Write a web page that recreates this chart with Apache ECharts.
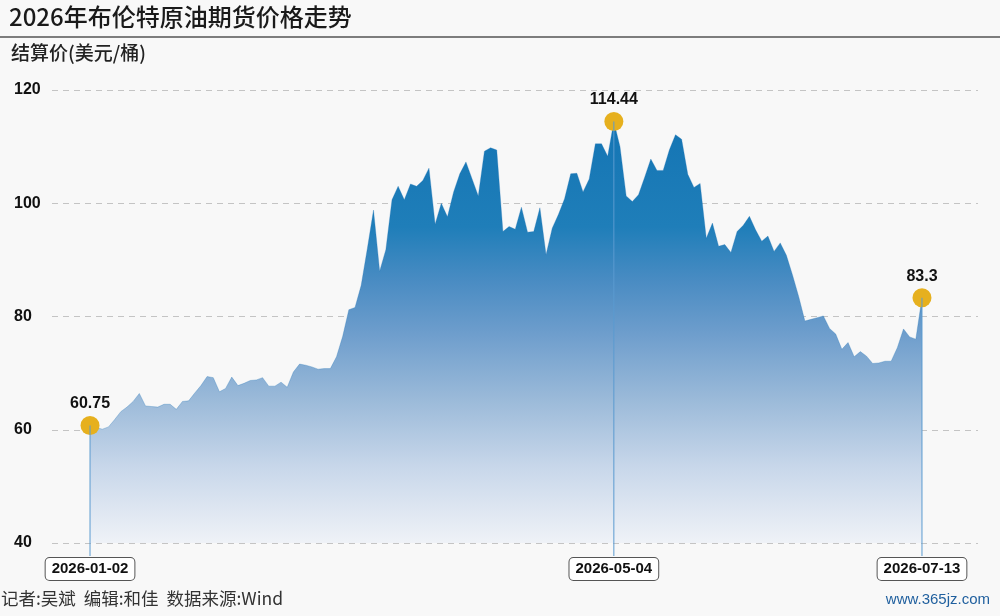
<!DOCTYPE html>
<html><head><meta charset="utf-8">
<script src="https://cdn.jsdelivr.net/npm/echarts@6/dist/echarts.min.js"></script>
<style>html,body{margin:0;padding:0;background:#f8f8f8}#c{width:1000px;height:616px}</style>
</head><body><div id="c"></div>
<script>
const titleText = '2026年布伦特原油期货价格走势';
const unitText = '结算价(美元/桶)';
const footerText = '记者:吴斌  编辑:和佳  数据来源:Wind';
const watermarkText = 'www.365jz.com';
const yTicks = [40, 60, 80, 100, 120];
const startDate = '2026-01-02';
const endDate = '2026-07-13';
const holidays = ['2026-04-03'];
const highlightDates = ['2026-01-02', '2026-05-04', '2026-07-13'];
const prices = [
  60.75, 60.4, 60.1, 60.5, 61.8, 63.2, 64.0, 65.0, 66.4, 64.2,
  64.1, 64.0, 64.5, 64.5, 63.6, 65.0, 65.1, 66.5, 67.8, 69.4,
  69.2, 66.7, 67.3, 69.3, 67.8, 68.2, 68.7, 68.8, 69.2, 67.7,
  67.7, 68.4, 67.5, 70.2, 71.6, 71.4, 71.1, 70.7, 70.8, 70.8,
  72.9, 76.5, 81.2, 81.6, 85.5, 92.0, 98.8, 88.0, 91.8, 100.6,
  103.0, 100.6, 103.4, 103.0, 104.0, 106.2, 96.3, 100.0, 97.6, 102.0,
  105.2, 107.3, 104.3, 101.3, 109.2, 109.8, 109.4, 95.0, 95.9, 95.4,
  99.3, 94.9, 95.0, 99.2, 90.9, 95.6, 98.0, 100.8, 105.2, 105.3,
  102.0, 104.3, 110.5, 110.5, 108.3, 114.44, 110.0, 101.3, 100.3, 101.5,
  104.6, 107.8, 105.8, 105.8, 109.4, 112.1, 111.3, 105.1, 102.8, 103.5,
  93.8, 96.5, 92.4, 92.7, 91.3, 95.0, 96.1, 97.7, 95.3, 93.3,
  94.2, 91.5, 93.0, 90.8, 87.3, 83.5, 79.2, 79.5, 79.8, 80.1,
  77.9, 76.9, 74.2, 75.4, 72.9, 73.8, 73.0, 71.7, 71.8, 72.1,
  72.1, 74.5, 77.8, 76.4, 76.0, 83.3
];

// trading-day categories (weekdays between start and end, minus holidays)
function tradingDays(a, b) {
  const out = [];
  const d = new Date(a + 'T00:00:00Z');
  const e = new Date(b + 'T00:00:00Z');
  while (d <= e) {
    const w = d.getUTCDay();
    const s = d.toISOString().slice(0, 10);
    if (w !== 0 && w !== 6 && holidays.indexOf(s) < 0) out.push(s);
    d.setUTCDate(d.getUTCDate() + 1);
  }
  return out;
}
const dates = tradingDays(startDate, endDate);
const hiIdx = highlightDates.map(s => dates.indexOf(s)).filter(i => i >= 0 && i < prices.length);

const numFont = '"Liberation Sans Narrow", "Liberation Sans", Arial, sans-serif';
const cjkFont = '"Noto Sans CJK SC", "Noto Sans", sans-serif';

const chart = echarts.init(document.getElementById('c'));
chart.setOption({
  backgroundColor: '#f8f8f8',
  animation: false,
  grid: { left: 52, right: 22, top: 90, bottom: 73 },
  xAxis: {
    type: 'value', min: -6.17, max: prices.length - 1 + 9.09,
    show: false, splitLine: { show: false }
  },
  yAxis: {
    type: 'value', min: yTicks[0], max: yTicks[yTicks.length - 1], interval: 20,
    axisLine: { show: false }, axisTick: { show: false },
    axisLabel: {
      align: 'left', margin: 38, color: '#111', fontSize: 16, fontWeight: 'bold',
      fontFamily: numFont
    },
    splitLine: { lineStyle: { color: '#c4c4c4', type: [6, 5], width: 1 } }
  },
  graphic: [
    { type: 'text', left: 9, top: 5, style: { text: titleText, font: '500 24px ' + cjkFont, fill: '#1a1a1a' } },
    { type: 'line', shape: { x1: 0, y1: 37, x2: 1000, y2: 37 }, style: { stroke: '#555', lineWidth: 1.5 } },
    { type: 'text', left: 11, top: 43, style: { text: unitText, font: '500 19px ' + cjkFont, fill: '#222' } },
    { type: 'text', left: 1, top: 590, style: { text: footerText, font: '17.5px ' + cjkFont, fill: '#333' } },
    { type: 'text', right: 10, top: 592, style: { text: watermarkText, font: '15px ' + numFont, fill: '#1f5f9e' } }
  ],
  series: [{
    type: 'line',
    data: prices.map((v, i) => [i, v]),
    showSymbol: false,
    lineStyle: { width: 0.6, color: 'rgba(30,115,180,0.5)' },
    areaStyle: {
      opacity: 1,
      color: new echarts.graphic.LinearGradient(0, 0, 0, 1, [
        { offset: 0, color: '#1475b4' },
        { offset: 0.25, color: '#1f7eb9' },
        { offset: 0.38, color: '#4a8cc3' },
        { offset: 0.5, color: '#6d9dcc' },
        { offset: 0.66, color: '#9bbad9' },
        { offset: 0.82, color: '#c8d7ea' },
        { offset: 1, color: '#eff2f7' }
      ])
    },
    emphasis: { disabled: true },
    markPoint: {
      silent: true,
      symbol: 'circle', symbolSize: 19,
      itemStyle: { color: '#E6B01E' },
      label: {
        show: true, position: 'top', distance: 4,
        formatter: p => String(p.value),
        color: '#111', fontSize: 16, fontWeight: 'bold', fontFamily: numFont
      },
      data: hiIdx.map(i => ({ coord: [i, prices[i]], value: prices[i] }))
    }
  }, {
    // drop lines from highlighted points with boxed date labels under the plot
    type: 'custom',
    clip: false,
    silent: true,
    z: 5,
    data: hiIdx.map(i => [i, prices[i]]),
    renderItem: (params, api) => {
      const idx = api.value(0);
      const p = api.coord([idx, api.value(1)]);
      const b = api.coord([idx, yTicks[0]]);
      return {
        type: 'group',
        children: [
          { type: 'line', shape: { x1: p[0], y1: p[1], x2: p[0], y2: b[1] + 13 },
            style: { stroke: '#5b9bd0', lineWidth: 1 } },
          { type: 'text', x: p[0], y: b[1] + 26,
            style: {
              text: dates[idx], align: 'center', verticalAlign: 'middle',
              font: 'bold 15px ' + numFont, fill: '#111',
              backgroundColor: '#fff', borderColor: '#555', borderWidth: 1, borderRadius: 4,
              padding: [4, 6, 3, 6]
            } }
        ]
      };
    }
  }]
});
</script>
</body></html>
